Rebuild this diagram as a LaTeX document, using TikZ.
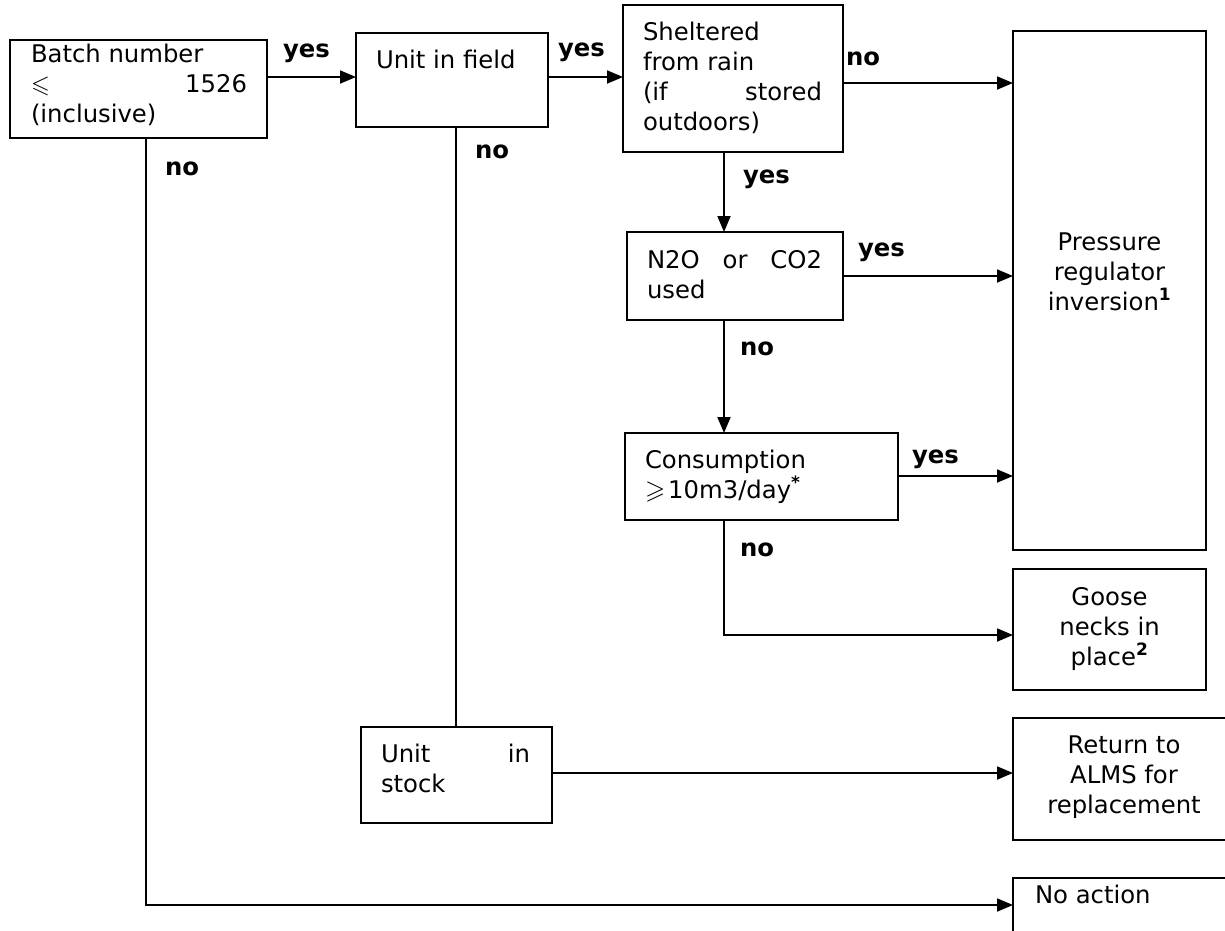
\documentclass[tikz,border=0pt]{standalone}
\usepackage{amssymb}
\usepackage{fontspec}
\setmainfont{DejaVu Sans}
\usetikzlibrary{arrows.meta}
\begin{document}
\begin{tikzpicture}[x=1pt,y=-1pt,
  box/.style={draw, line width=2pt, anchor=north west, inner sep=0pt, outer sep=0pt},
  txt/.style={anchor=base west, inner sep=0pt, outer sep=0pt, font=\fontsize{24.3}{30}\selectfont},
  lab/.style={anchor=base west, inner sep=0pt, outer sep=0pt, font=\fontsize{24.3}{30}\selectfont\bfseries},
  conn/.style={line width=1.8pt},
  arr/.style={conn, -{Triangle[length=16pt,width=13pt]}}]
\useasboundingbox (0,0) rectangle (1225,930);
% boxes
\node[box, minimum width=257pt, minimum height=98pt] (b1) at (10,40) {};
\node[box, minimum width=192pt, minimum height=94pt] (b2) at (356,33) {};
\node[box, minimum width=220pt, minimum height=147pt] (b3) at (623,5) {};
\node[box, minimum width=193pt, minimum height=519pt] (bp) at (1013,31) {};
\node[box, minimum width=216pt, minimum height=88pt] (b4) at (627,232) {};
\node[box, minimum width=273pt, minimum height=87pt] (b5) at (625,433) {};
\node[box, minimum width=193pt, minimum height=121pt] (bg) at (1013,569) {};
\node[box, minimum width=191pt, minimum height=96pt] (bs) at (361,727) {};
\node[box, minimum width=225pt, minimum height=122pt] (br) at (1013,718) {};
\node[box, minimum width=215pt, minimum height=80pt] (bn) at (1013,878) {};
% texts
\node[txt] (t1) at (31,62) {\parbox[t]{216pt}{Batch number\\$\leqslant$\hfill 1526\\(inclusive)}};
\node[txt] (t2) at (376,68) {Unit in field};
\node[txt] (t3) at (643,40) {\parbox[t]{179pt}{Sheltered\\from rain\\(if\hfill stored\\outdoors)}};
\node[txt] (t4) at (647,268) {\parbox[t]{175pt}{N2O\hfill or\hfill CO2\\used}};
\node[txt] (t5) at (645,468) {\parbox[t]{240pt}{Consumption\\{\fontsize{26}{30}\selectfont$\geqslant$}\hspace{3pt}10m3/day\textsuperscript{\textbf{*}}}};
\node[txt] (tp) at (1013,250) {\parbox[t]{193pt}{\centering Pressure\\regulator\\inversion\textsuperscript{\textbf{1}}}};
\node[txt] (tg) at (1013,605) {\parbox[t]{193pt}{\centering Goose\\necks in\\place\textsuperscript{\textbf{2}}}};
\node[txt] (tr) at (1013,753) {\parbox[t]{222pt}{\centering Return to\\ALMS for\\replacement}};
\node[txt] (tn) at (1035,903) {No action};
\node[txt] (ts) at (381,762) {\parbox[t]{149pt}{Unit\hfill in\\stock}};
% labels
\node[lab] (l1) at (283,57) {yes};
\node[lab] (l2) at (558,56) {yes};
\node[lab] (l3) at (846,65) {no};
\node[lab] (l4) at (165,175) {no};
\node[lab] (l5) at (475,158) {no};
\node[lab] (l6) at (743,183) {yes};
\node[lab] (l7) at (858,256) {yes};
\node[lab] (l8) at (740,355) {no};
\node[lab] (l9) at (912,463) {yes};
\node[lab] (l10) at (740,556) {no};
% connectors
\draw[arr] (b1.east |- 0,77) -- (b2.west |- 0,77);
\draw[arr] (b2.east |- 0,77) -- (b3.west |- 0,77);
\draw[arr] (b3.east |- 0,83) -- (bp.west |- 0,83);
\draw[arr] (b3.south -| 724,0) -- (b4.north -| 724,0);
\draw[arr] (b4.east |- 0,276) -- (bp.west |- 0,276);
\draw[arr] (b4.south -| 724,0) -- (b5.north -| 724,0);
\draw[arr] (b5.east |- 0,476) -- (bp.west |- 0,476);
\draw[arr] (b5.south -| 724,0) |- (bg.west |- 0,635);
\draw[conn] (b2.south -| 456,0) -- (bs.north -| 456,0);
\draw[arr] (bs.east |- 0,773) -- (br.west |- 0,773);
\draw[arr] (b1.south -| 146,0) |- (bn.west |- 0,905);
\end{tikzpicture}
\end{document}
